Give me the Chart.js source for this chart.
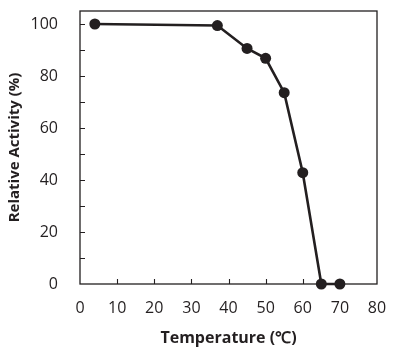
<!DOCTYPE html>
<html>
<head>
<meta charset="utf-8">
<script src="https://cdn.jsdelivr.net/npm/chart.js@4"></script>
<style>
html,body{margin:0;padding:0;background:#fff;}
#wrap{width:394px;height:357px;position:relative;}
</style>
</head>
<body>
<div id="wrap"><canvas id="c" width="394" height="357"></canvas></div>
<script>
const temperatures = [4, 37, 45, 50, 55, 60, 65, 70];
const relativeActivity = [100, 99.4, 90.6, 86.8, 73.6, 42.8, 0, 0];
const xTicks = [0, 10, 20, 30, 40, 50, 60, 70, 80];
const yTicks = [0, 20, 40, 60, 80, 100];

const ink = '#231f20';

const boxPlugin = {
  id: 'box',
  beforeDatasetsDraw(chart) {
    const {ctx, chartArea: a, scales} = chart;
    ctx.save();
    ctx.strokeStyle = ink;
    ctx.lineWidth = 1.3;
    ctx.strokeRect(a.left, a.top, a.right - a.left, a.bottom - a.top);
    ctx.lineWidth = 1.1;
    ctx.beginPath();
    for (let v = 10; v <= 100; v += 10) {
      const y = Math.round(scales.y.getPixelForValue(v)) + 0.5;
      ctx.moveTo(a.left, y); ctx.lineTo(a.left + 5, y);
    }
    for (let v = 10; v <= 70; v += 10) {
      const x = Math.round(scales.x.getPixelForValue(v)) + 0.5;
      ctx.moveTo(x, a.bottom); ctx.lineTo(x, a.bottom - 5);
    }
    ctx.stroke();
    ctx.restore();
  }
};

new Chart(document.getElementById('c'), {
  type: 'scatter',
  data: {
    datasets: [{
      data: temperatures.map((t, i) => ({x: t, y: relativeActivity[i]})),
      showLine: true,
      borderColor: ink,
      backgroundColor: ink,
      borderWidth: 2.6,
      pointRadius: 5.5,
      pointBackgroundColor: ink,
      pointBorderWidth: 0,
      clip: false
    }]
  },
  options: {
    responsive: false,
    animation: false,
    devicePixelRatio: 1,
    plugins: {legend: {display: false}, tooltip: {enabled: false}},
    layout: {padding: {top: 11, right: 17, left: 0, bottom: 0}},
    scales: {
      x: {
        type: 'linear', min: 0, max: 80,
        afterBuildTicks: s => { s.ticks = xTicks.map(v => ({value: v})); },
        afterFit: s => { s.height = 73; s.paddingLeft = 0; s.paddingRight = 0; s.paddingTop = 0; s.paddingBottom = 0; },
        grid: {display: false, drawTicks: false},
        border: {display: false},
        ticks: {color: ink, padding: 15, font: {family: 'Open Sans', size: 16}, maxRotation: 0},
        title: {display: true, text: 'Temperature (℃)', color: ink,
          font: {family: 'Open Sans', size: 16, weight: 'bold'}, padding: {top: 0, bottom: 9}}
      },
      y: {
        min: 0, max: 105,
        afterBuildTicks: s => { s.ticks = yTicks.map(v => ({value: v})); },
        afterFit: s => { s.width = 80; s.paddingLeft = 0; s.paddingRight = 0; s.paddingTop = 0; s.paddingBottom = 0; },
        grid: {display: false, drawTicks: false},
        border: {display: false},
        ticks: {color: ink, padding: 22, font: {family: 'Open Sans', size: 16}},
        title: {display: true, text: 'Relative Activity (%)', color: ink,
          font: {family: 'Open Sans', size: 15, weight: 'bold'}, padding: {top: 6, bottom: 0}}
      }
    }
  },
  plugins: [boxPlugin]
});
</script>
</body>
</html>
